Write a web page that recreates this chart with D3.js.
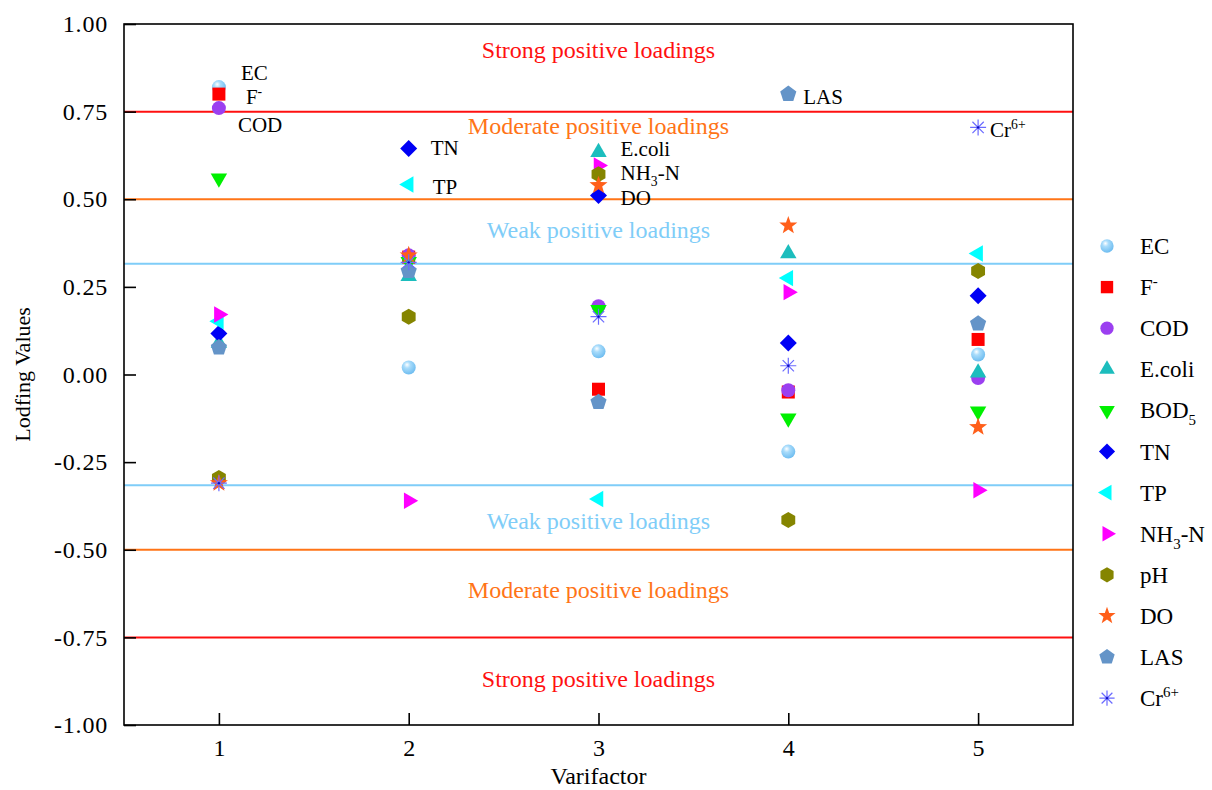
<!DOCTYPE html>
<html>
<head>
<meta charset="utf-8">
<script src="https://cdn.jsdelivr.net/npm/d3@7"></script>
<style>
  html, body { margin: 0; padding: 0; background: #fff; }
  svg { display: block; font-family: "Liberation Serif", "Times New Roman", serif; }
</style>
</head>
<body>
<svg id="chart" width="1212" height="790"></svg>
<script>
// ---------------- DATA ----------------
const factors = [1, 2, 3, 4, 5];
const yTicks = [1.00, 0.75, 0.50, 0.25, 0.00, -0.25, -0.50, -0.75, -1.00];
const seriesNames = ["EC", "F-", "COD", "E.coli", "BOD5", "TN", "TP", "NH3-N", "pH", "DO", "LAS", "Cr6+"];

const EC    = [0.82, 0.02, 0.066, -0.22, 0.057];
const F     = [0.80, 0.335, -0.042, -0.05, 0.10];
const COD   = [0.76, 0.34, 0.195, -0.045, -0.01];
const Ecoli = [0.09, 0.28, 0.634, 0.345, 0.005];
const BOD5  = [0.56, 0.322, 0.185, -0.125, -0.105];
const TN    = [0.117, 0.645, 0.511, 0.09, 0.225];
const TP    = [0.152, 0.542, -0.355, 0.275, 0.345];
const NH3N  = [0.171, -0.36, 0.596, 0.235, -0.33];
const pH    = [-0.295, 0.165, 0.571, -0.415, 0.295];
const DO    = [-0.31, 0.34, 0.54, 0.425, -0.15];
const LAS   = [0.077, 0.295, -0.079, 0.80, 0.145];
const Cr    = [-0.31, 0.32, 0.165, 0.025, 0.705];
const seriesValues = [EC, F, COD, Ecoli, BOD5, TN, TP, NH3N, pH, DO, LAS, Cr];

// threshold lines
const thresholdValues = [0.75, 0.50, 0.316, -0.316, -0.50, -0.75];
const thresholdKinds  = ["strong", "moderate", "weak", "weak", "moderate", "strong"];

// zone texts
const zoneTexts  = ["Strong positive loadings", "Moderate positive loadings", "Weak positive loadings",
                    "Weak positive loadings", "Moderate positive loadings", "Strong positive loadings"];
const zoneAt     = [0.927, 0.708, 0.411, -0.417, -0.616, -0.870];
const zoneKinds  = ["strong", "moderate", "weak", "weak", "moderate", "strong"];

// point annotations: series name, factor
const annoSeries  = ["EC", "F-", "COD", "TN", "TP", "E.coli", "NH3-N", "DO", "LAS", "Cr6+"];
const annoFactors = [1, 1, 1, 2, 2, 3, 3, 3, 4, 5];

// ---------------- STYLE ----------------
const kindColor = { strong: "#ff1010", moderate: "#ff7417", weak: "#7fcdf8" };
const styles = {
  "EC":     { shape: "sphere",   fill: "#84ccf8" },
  "F-":     { shape: "square",   fill: "#ff0000" },
  "COD":    { shape: "circle",   fill: "#9b3ff0" },
  "E.coli": { shape: "triUp",    fill: "#1cbdbd" },
  "BOD5":   { shape: "triDown",  fill: "#00f000" },
  "TN":     { shape: "diamond",  fill: "#0000f5" },
  "TP":     { shape: "triLeft",  fill: "#00ffff" },
  "NH3-N":  { shape: "triRight", fill: "#ff00ff" },
  "pH":     { shape: "hexagon",  fill: "#858500" },
  "DO":     { shape: "star",     fill: "#ff5f1a" },
  "LAS":    { shape: "pentagon", fill: "#6494c8" },
  "Cr6+":   { shape: "asterisk", fill: "#6b6bff" }
};
// label parts: [text, "n"|"sub"|"sup"]
const labelParts = {
  "EC": [["EC","n"]],
  "F-": [["F","n"],["-","sup"]],
  "COD": [["COD","n"]],
  "E.coli": [["E.coli","n"]],
  "BOD5": [["BOD","n"],["5","sub"]],
  "TN": [["TN","n"]],
  "TP": [["TP","n"]],
  "NH3-N": [["NH","n"],["3","sub"],["-N","n"]],
  "pH": [["pH","n"]],
  "DO": [["DO","n"]],
  "LAS": [["LAS","n"]],
  "Cr6+": [["Cr","n"],["6+","sup"]]
};
const annoOffsets = {
  "EC": [22, -14], "F-": [27, 3], "COD": [19, 17], "TN": [22, 0], "TP": [24, 2],
  "E.coli": [22, -3], "NH3-N": [22, 7], "DO": [22, 13], "LAS": [15, 3], "Cr6+": [12, 3]
};

// ---------------- LAYOUT ----------------
const svg = d3.select("#chart");
const plotL = 124, plotR = 1073, plotT = 24, plotB = 725;
const x = d3.scaleLinear().domain([0.5, 5.5]).range([plotL, plotR]);
const y = d3.scaleLinear().domain([-1, 1]).range([plotB, plotT]);

// gradient for EC sphere
const defs = svg.append("defs");
const grad = defs.append("radialGradient").attr("id", "sphere")
  .attr("cx", "40%").attr("cy", "35%").attr("r", "65%").attr("fx", "38%").attr("fy", "30%");
grad.append("stop").attr("offset", "0%").attr("stop-color", "#ffffff");
grad.append("stop").attr("offset", "35%").attr("stop-color", "#a9dcfb");
grad.append("stop").attr("offset", "100%").attr("stop-color", "#6fbdf0");

// ---------------- SHAPES ----------------
function poly(n, r, rot) {
  const pts = [];
  for (let i = 0; i < n; i++) {
    const a = rot + i * 2 * Math.PI / n;
    pts.push([r * Math.cos(a), r * Math.sin(a)]);
  }
  return "M" + pts.map(p => p[0].toFixed(2) + "," + p[1].toFixed(2)).join("L") + "Z";
}
function starPath(ro, ri) {
  const pts = [];
  for (let i = 0; i < 10; i++) {
    const r = i % 2 === 0 ? ro : ri;
    const a = -Math.PI / 2 + i * Math.PI / 5;
    pts.push([r * Math.cos(a), r * Math.sin(a)]);
  }
  return "M" + pts.map(p => p[0].toFixed(2) + "," + p[1].toFixed(2)).join("L") + "Z";
}
function drawMarker(g, name, cx, cy, k) {
  const s = styles[name];
  const t = g.append("g").attr("transform", `translate(${cx},${cy})`);
  switch (s.shape) {
    case "sphere":
      t.append("circle").attr("r", 7 * k).attr("fill", "url(#sphere)");
      break;
    case "circle":
      t.append("circle").attr("r", 7 * k).attr("fill", s.fill);
      break;
    case "square":
      t.append("rect").attr("x", -6.5 * k).attr("y", -6.5 * k).attr("width", 13 * k).attr("height", 13 * k).attr("fill", s.fill);
      break;
    case "triUp":
      t.append("path").attr("d", poly(3, 9.5 * k, -Math.PI / 2)).attr("fill", s.fill);
      break;
    case "triDown":
      t.append("path").attr("d", poly(3, 9.5 * k, Math.PI / 2)).attr("fill", s.fill);
      break;
    case "triLeft":
      t.append("path").attr("d", poly(3, 9.5 * k, Math.PI)).attr("fill", s.fill);
      break;
    case "triRight":
      t.append("path").attr("d", poly(3, 9.5 * k, 0)).attr("fill", s.fill);
      break;
    case "diamond":
      t.append("path").attr("d", poly(4, 8.5 * k, 0)).attr("fill", s.fill);
      break;
    case "hexagon":
      t.append("path").attr("d", poly(6, 8 * k, -Math.PI / 2)).attr("fill", s.fill);
      break;
    case "pentagon":
      t.append("path").attr("d", poly(5, 8.5 * k, -Math.PI / 2)).attr("fill", s.fill);
      break;
    case "star":
      t.append("path").attr("d", starPath(9.5 * k, 3.9 * k)).attr("fill", s.fill);
      break;
    case "asterisk": {
      const r = 8 * k;
      const segs = [];
      for (let i = 0; i < 4; i++) {
        const a = i * Math.PI / 4;
        segs.push(`M${(-r * Math.cos(a)).toFixed(2)},${(-r * Math.sin(a)).toFixed(2)}L${(r * Math.cos(a)).toFixed(2)},${(r * Math.sin(a)).toFixed(2)}`);
      }
      t.append("path").attr("d", segs.join("")).attr("stroke", s.fill).attr("stroke-width", 1.2).attr("fill", "none");
      t.append("circle").attr("r", 1.2).attr("fill", "#1010c0");
      break;
    }
  }
}
function writeLabel(textSel, name, size) {
  labelParts[name].forEach(([txt, kind], i) => {
    const ts = textSel.append("tspan").text(txt);
    if (kind === "sub") ts.attr("font-size", size * 0.65).attr("dy", size * 0.3);
    else if (kind === "sup") ts.attr("font-size", size * 0.65).attr("dy", -size * 0.38);
    else {
      const prev = i > 0 ? labelParts[name][i - 1][1] : "n";
      if (prev === "sub") ts.attr("dy", -size * 0.3);
      if (prev === "sup") ts.attr("dy", size * 0.38);
    }
  });
}

// ---------------- THRESHOLD LINES ----------------
svg.append("g").selectAll("line").data(thresholdValues).join("line")
  .attr("x1", plotL).attr("x2", plotR)
  .attr("y1", d => y(d)).attr("y2", d => y(d))
  .attr("stroke", (d, i) => kindColor[thresholdKinds[i]])
  .attr("stroke-width", 2);

// zone texts
svg.append("g").selectAll("text").data(zoneTexts).join("text")
  .attr("x", (plotL + plotR) / 2)
  .attr("y", (d, i) => y(zoneAt[i]))
  .attr("text-anchor", "middle").attr("dominant-baseline", "central")
  .attr("font-size", 24)
  .attr("fill", (d, i) => kindColor[zoneKinds[i]])
  .text(d => d);

// ---------------- AXES / FRAME ----------------
svg.append("rect").attr("x", plotL).attr("y", plotT).attr("width", plotR - plotL).attr("height", plotB - plotT)
  .attr("fill", "none").attr("stroke", "#000").attr("stroke-width", 1.6);

const fmt2 = d => d3.format(".2f")(d).replace("\u2212", "-");
const yAxis = d3.axisLeft(y).tickValues(yTicks).tickSize(-12).tickPadding(16).tickFormat(fmt2);
const yg = svg.append("g").attr("transform", `translate(${plotL},0)`).call(yAxis);
yg.select(".domain").remove();
yg.selectAll("line").attr("stroke", "#000").attr("stroke-width", 1.6);
yg.selectAll("text").attr("font-size", 24).attr("font-family", "Liberation Serif, serif").attr("fill", "#000").attr("letter-spacing", "0.8px");

const xAxis = d3.axisBottom(x).tickValues(factors).tickSize(-12).tickPadding(14).tickFormat(d3.format("d"));
const xg = svg.append("g").attr("transform", `translate(0,${plotB})`).call(xAxis);
xg.select(".domain").remove();
xg.selectAll("line").attr("stroke", "#000").attr("stroke-width", 1.6);
xg.selectAll("text").attr("font-size", 24).attr("font-family", "Liberation Serif, serif").attr("fill", "#000");

svg.append("text").attr("x", (plotL + plotR) / 2).attr("y", 776)
  .attr("text-anchor", "middle").attr("dominant-baseline", "central")
  .attr("font-size", 24).text("Varifactor");
svg.append("text").attr("transform", `translate(22,${y(0)}) rotate(-90)`)
  .attr("text-anchor", "middle").attr("dominant-baseline", "central")
  .attr("font-size", 22).text("Lodfing Values");

// ---------------- POINTS ----------------
const pts = svg.append("g");
seriesNames.forEach((name, si) => {
  seriesValues[si].forEach((v, fi) => {
    drawMarker(pts, name, x(factors[fi]), y(v), 1);
  });
});

// annotations
const ann = svg.append("g");
annoSeries.forEach((name, i) => {
  const si = seriesNames.indexOf(name);
  const f = annoFactors[i];
  const v = seriesValues[si][factors.indexOf(f)];
  const [dx, dy] = annoOffsets[name];
  const t = ann.append("text")
    .attr("x", x(f) + dx).attr("y", y(v) + dy + 7)
    .attr("font-size", 21).attr("fill", "#000");
  writeLabel(t, name, 21);
});

// ---------------- LEGEND ----------------
const leg = svg.append("g");
seriesNames.forEach((name, i) => {
  const ly = 246 + i * 41.1;
  drawMarker(leg, name, 1107, ly, 0.95);
  const t = leg.append("text").attr("x", 1140).attr("y", ly + 8).attr("font-size", 23).attr("fill", "#000");
  writeLabel(t, name, 23);
});
</script>
</body>
</html>
